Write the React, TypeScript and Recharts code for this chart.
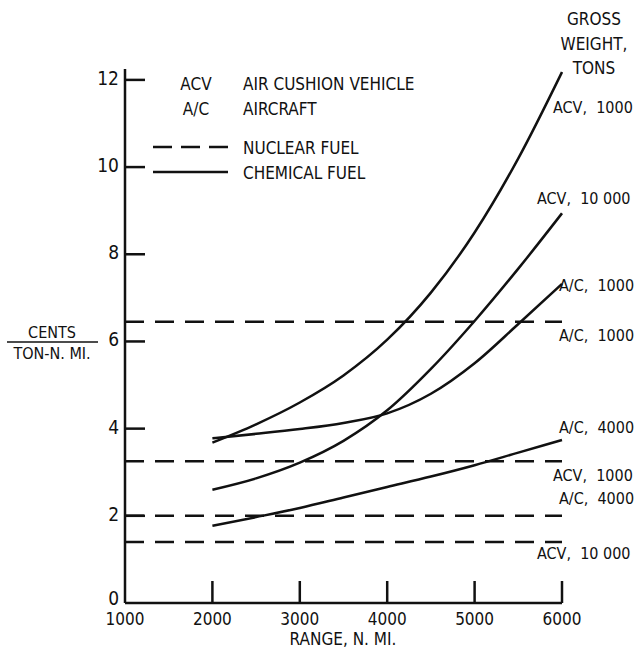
import {
  LineChart,
  Line,
  XAxis,
  YAxis,
  ReferenceLine,
} from 'recharts';

// range, n. mi.
const ranges = [2000, 2500, 3000, 3500, 4000, 4500, 5000, 5500, 6000];

// chemical fuel, cents / ton-n. mi.
const acv1000Chemical = [3.68, 4.1, 4.6, 5.22, 6.04, 7.12, 8.5, 10.2, 12.18];
const acv10000Chemical = [2.6, 2.86, 3.22, 3.72, 4.42, 5.37, 6.47, 7.67, 8.94];
const ac1000Chemical = [3.78, 3.88, 3.99, 4.13, 4.35, 4.8, 5.5, 6.4, 7.32];
const ac4000Chemical = [1.77, 1.97, 2.18, 2.42, 2.66, 2.9, 3.16, 3.45, 3.74];

// nuclear fuel, flat over range
const nuclearNames = ['A/C, 1000', 'ACV, 1000', 'A/C, 4000', 'ACV, 10 000'];
const nuclearValues = [6.45, 3.25, 2.0, 1.4];

const xTicks = [1000, 2000, 3000, 4000, 5000, 6000];
const yTicks = [0, 2, 4, 6, 8, 10, 12];

const data = ranges.map((r, i) => ({
  range: r,
  acv1000: acv1000Chemical[i],
  acv10000: acv10000Chemical[i],
  ac1000: ac1000Chemical[i],
  ac4000: ac4000Chemical[i],
}));

const FONT = '"DejaVu Sans Condensed", "Liberation Sans Narrow", sans-serif';
const INK = '#111';

const XTick = ({ x, y, payload }: any) => (
  <g>
    {payload.value !== 1000 && (
      <line x1={x} y1={y} x2={x} y2={y - 22} stroke={INK} strokeWidth={2.5} />
    )}
    <text x={x} y={y + 22} textAnchor="middle" fontFamily={FONT} fontSize={17} fill={INK}>
      {payload.value}
    </text>
  </g>
);

const YTick = ({ x, y, payload }: any) => (
  <g>
    {payload.value !== 0 && (
      <line x1={x} y1={y} x2={x + 20} y2={y} stroke={INK} strokeWidth={2.5} />
    )}
    <text
      x={x - 6}
      y={payload.value === 0 ? y + 2 : y + 5}
      textAnchor="end"
      fontFamily={FONT}
      fontSize={19}
      fill={INK}
    >
      {payload.value}
    </text>
  </g>
);

const curveLabels = [
  { text: 'ACV,  1000', x: 553, y: 113 },
  { text: 'ACV,  10 000', x: 537, y: 204 },
  { text: 'A/C,  1000', x: 559, y: 291 },
  { text: 'A/C,  1000', x: 559, y: 341 },
  { text: 'A/C,  4000', x: 559, y: 433 },
  { text: 'ACV,  1000', x: 553, y: 481 },
  { text: 'A/C,  4000', x: 559, y: 504 },
  { text: 'ACV,  10 000', x: 537, y: 559 },
];

export default function App() {
  return (
    <div style={{ position: 'absolute', left: 0, top: 0, width: 642, height: 655, background: '#fff' }}>
      <LineChart
        width={642}
        height={655}
        data={data}
        margin={{ top: 69, right: 80, bottom: 0, left: 0 }}
      >
        <XAxis
          dataKey="range"
          type="number"
          domain={[1000, 6000]}
          ticks={xTicks}
          height={52}
          axisLine={{ stroke: INK, strokeWidth: 2.5 }}
          tickLine={false}
          tickSize={0}
          tickMargin={0}
          tick={<XTick />}
          interval={0}
        />
        <YAxis
          type="number"
          domain={[0, 12.25]}
          ticks={yTicks}
          width={125}
          axisLine={{ stroke: INK, strokeWidth: 2.5 }}
          tickLine={false}
          tickSize={0}
          tickMargin={0}
          tick={<YTick />}
          interval={0}
        />
        {nuclearValues.map((v, i) => (
          <ReferenceLine
            key={nuclearNames[i] + i}
            y={v}
            stroke={INK}
            strokeWidth={2.5}
            strokeDasharray="19 11"
          />
        ))}
        {['acv1000', 'acv10000', 'ac1000', 'ac4000'].map((k) => (
          <Line
            key={k}
            dataKey={k}
            type="monotone"
            stroke={INK}
            strokeWidth={2.5}
            dot={false}
            isAnimationActive={false}
          />
        ))}
      </LineChart>
      <svg
        width={642}
        height={655}
        style={{ position: 'absolute', left: 0, top: 0, pointerEvents: 'none' }}
        fontFamily={FONT}
        fill={INK}
      >
        {/* legend */}
        <text x={196} y={90} fontSize={17} textAnchor="middle">ACV</text>
        <text x={196} y={115} fontSize={17} textAnchor="middle">A/C</text>
        <text x={243} y={90} fontSize={17}>AIR CUSHION VEHICLE</text>
        <text x={243} y={115} fontSize={17}>AIRCRAFT</text>
        <line x1={153} y1={147} x2={228} y2={147} stroke={INK} strokeWidth={2.5} strokeDasharray="19 9" />
        <text x={243} y={154} fontSize={17}>NUCLEAR FUEL</text>
        <line x1={153} y1={172} x2={228} y2={172} stroke={INK} strokeWidth={2.5} />
        <text x={243} y={179} fontSize={17}>CHEMICAL FUEL</text>

        {/* gross weight header */}
        <text x={594} y={25} fontSize={17} textAnchor="middle">GROSS</text>
        <text x={594} y={50} fontSize={17} textAnchor="middle">WEIGHT,</text>
        <text x={594} y={74} fontSize={17} textAnchor="middle">TONS</text>

        {curveLabels.map((l, i) => (
          <text key={i} x={l.x} y={l.y} fontSize={16} xmlSpace="preserve">
            {l.text}
          </text>
        ))}

        {/* y axis title */}
        <text x={52} y={338} fontSize={16} textAnchor="middle">CENTS</text>
        <line x1={7} y1={342} x2={98} y2={342} stroke={INK} strokeWidth={1.5} />
        <text x={52} y={359} fontSize={16} textAnchor="middle">TON-N. MI.</text>

        {/* x axis title */}
        <text x={343} y={645} fontSize={17} textAnchor="middle">RANGE,  N. MI.</text>
      </svg>
    </div>
  );
}
